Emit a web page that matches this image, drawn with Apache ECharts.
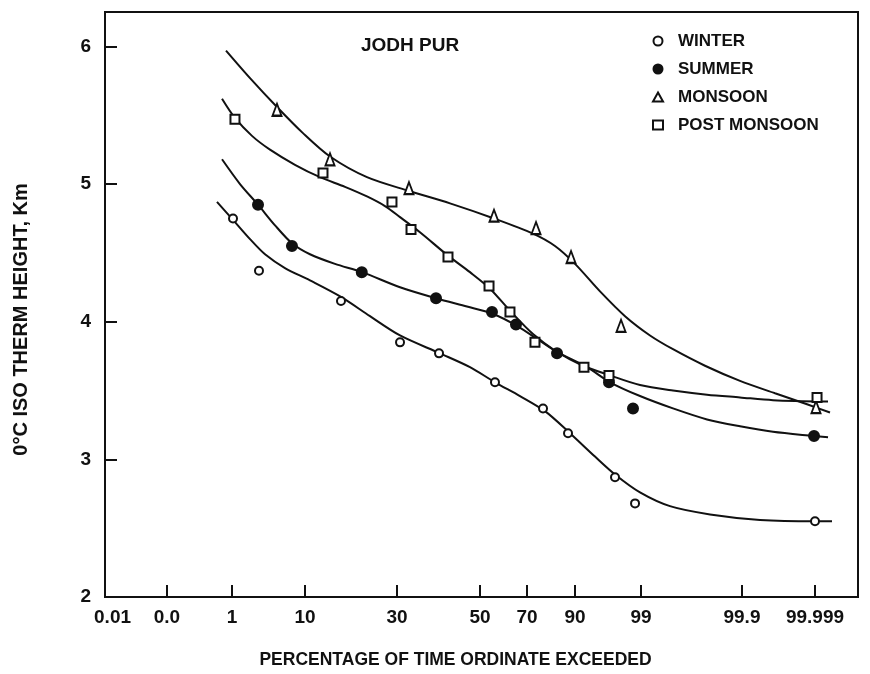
<!DOCTYPE html>
<html lang="en">
<head>
  <meta charset="UTF-8">
  <title>Jodhpur 0°C isotherm height</title>
  <style>
    html, body { margin: 0; padding: 0; background: #fff; }
    #main { width: 870px; height: 674px; }
  </style>
</head>
<body>
  <div id="main"></div>

  <script src="https://cdn.jsdelivr.net/npm/echarts@6/dist/echarts.min.js"></script>
  <script type="text/javascript">

    // x axis: position along the probability paper (0 = left edge, 100 = right edge)
    var tickPos    = [1.0, 8.23, 16.87, 26.56, 38.78, 49.80, 56.04, 62.42, 71.18, 84.59, 94.29];
    var tickLabels = ['0.01', '0.0', '1', '10', '30', '50', '70', '90', '99', '99.9', '99.999'];
    var yTicks = [2, 3, 4, 5, 6];

    // observed points [axis position, height km]
    var winterPts = [[17.00, 4.75], [20.45, 4.37], [31.34, 4.15], [39.18, 3.85], [44.36, 3.77],
      [51.79, 3.56], [58.17, 3.37], [61.49, 3.19], [67.73, 2.87], [70.39, 2.68], [94.29, 2.55]];
    var summerPts = [[20.32, 4.85], [24.83, 4.55], [34.10, 4.36], [43.96, 4.17], [51.39, 4.07],
      [54.58, 3.98], [60.03, 3.77], [66.93, 3.56], [70.12, 3.37], [94.16, 3.17]];
    var monsoonPts = [[22.84, 5.54], [29.88, 5.18], [40.37, 4.97], [51.66, 4.77], [57.24, 4.68],
      [61.89, 4.47], [68.53, 3.97], [94.42, 3.38]];
    var postPts = [[17.26, 5.47], [28.95, 5.08], [38.11, 4.87], [40.64, 4.67], [45.55, 4.47],
      [51.00, 4.26], [53.78, 4.07], [57.10, 3.85], [63.61, 3.67], [66.93, 3.61], [94.56, 3.45]];

    // fitted curves
    var winterCurve = [[14.87, 4.87], [17.00, 4.74], [19.26, 4.60], [21.25, 4.49], [23.90, 4.39],
      [27.22, 4.30], [31.34, 4.18], [35.19, 4.04], [39.18, 3.90], [44.49, 3.77], [48.47, 3.67],
      [51.79, 3.56], [55.11, 3.46], [58.43, 3.35], [61.75, 3.19], [65.07, 3.02], [67.73, 2.89],
      [71.05, 2.76], [75.03, 2.66], [80.35, 2.60], [86.99, 2.56], [94.29, 2.55], [96.55, 2.55]];
    var summerCurve = [[15.54, 5.18], [17.93, 5.00], [20.32, 4.85], [22.58, 4.70], [24.83, 4.57],
      [27.22, 4.49], [30.54, 4.42], [34.13, 4.36], [39.18, 4.25], [43.96, 4.17], [48.07, 4.11],
      [51.39, 4.06], [54.71, 3.97], [57.77, 3.86], [60.03, 3.78], [64.01, 3.67], [67.07, 3.56],
      [71.05, 3.46], [75.43, 3.37], [79.95, 3.29], [84.33, 3.24], [88.71, 3.20], [94.02, 3.17],
      [96.02, 3.16]];
    var monsoonCurve = [[16.07, 5.97], [19.26, 5.77], [22.84, 5.56], [26.29, 5.37], [29.88, 5.20],
      [34.79, 5.05], [40.37, 4.95], [45.82, 4.86], [51.66, 4.75], [56.84, 4.64], [59.76, 4.55],
      [62.42, 4.42], [65.74, 4.22], [69.06, 4.04], [72.38, 3.90], [75.43, 3.80], [79.68, 3.68],
      [84.33, 3.57], [88.98, 3.48], [93.23, 3.40], [96.28, 3.34]];
    var postCurve = [[15.54, 5.62], [17.26, 5.48], [19.52, 5.35], [21.91, 5.25], [25.23, 5.14],
      [28.55, 5.05], [31.87, 4.98], [34.79, 4.91], [37.18, 4.84], [39.18, 4.76], [41.83, 4.65],
      [45.55, 4.48], [48.47, 4.36], [51.13, 4.24], [53.78, 4.08], [56.84, 3.91], [60.03, 3.78],
      [63.48, 3.68], [67.07, 3.61], [71.05, 3.54], [75.43, 3.50], [79.95, 3.47], [84.33, 3.45],
      [88.71, 3.43], [96.02, 3.42]];

    var font = 'Liberation Sans';
    var ink = '#111';

    function curve(data) {
      return {
        type: 'line', data: data, smooth: 0.3, showSymbol: false, silent: true,
        lineStyle: { color: ink, width: 2 }, z: 2
      };
    }

    function dots(name, data, symbol, size, fill) {
      return {
        name: name, type: 'scatter', data: data, symbol: symbol, symbolSize: size, z: 3,
        itemStyle: { color: fill, borderColor: ink, borderWidth: 2, opacity: 1 }
      };
    }

    var myChart = echarts.init(document.getElementById('main'));

    var option = {
      backgroundColor: '#fff',
      animation: false,
      title: {
        text: 'JODH PUR', left: 356, top: 31,
        textStyle: { fontFamily: font, fontSize: 19, fontWeight: 'bold', color: ink }
      },
      legend: {
        orient: 'vertical', left: 647, top: 27,
        itemWidth: 10, itemHeight: 9, itemGap: 10,
        data: ['WINTER', 'SUMMER', 'MONSOON', 'POST MONSOON'],
        textStyle: { fontFamily: font, fontSize: 17, fontWeight: 'bold', color: ink,
          lineHeight: 18, padding: [0, 0, 0, 10] }
      },
      grid: {
        left: 105, right: 12, top: 12, bottom: 77,
        show: true, borderColor: ink, borderWidth: 2
      },
      xAxis: {
        type: 'value', min: 0, max: 100,
        name: 'PERCENTAGE OF TIME ORDINATE EXCEEDED',
        nameLocation: 'middle', nameGap: 54,
        nameTextStyle: { fontFamily: font, fontSize: 17.5, fontWeight: 'bold', color: ink,
          padding: [0, 52, 0, 0] },
        axisLine: { show: true, lineStyle: { color: ink, width: 2 } },
        axisTick: { show: true, inside: true, length: 12, customValues: tickPos.slice(1),
          lineStyle: { color: ink, width: 2 } },
        splitLine: { show: false },
        axisLabel: {
          customValues: tickPos, margin: 11,
          fontFamily: font, fontSize: 19, fontWeight: 'bold', color: ink,
          formatter: function (v) {
            var best = 0;
            for (var i = 1; i < tickPos.length; i++) {
              if (Math.abs(tickPos[i] - v) < Math.abs(tickPos[best] - v)) best = i;
            }
            return tickLabels[best];
          }
        }
      },
      yAxis: {
        type: 'value', min: 2, max: 6.25, interval: 1,
        name: '0°C ISO THERM HEIGHT, Km',
        nameLocation: 'middle', nameGap: 74, nameRotate: 90,
        nameTextStyle: { fontFamily: font, fontSize: 20, fontWeight: 'bold', color: ink,
          padding: [0, 30, 0, 0] },
        axisLine: { show: true, lineStyle: { color: ink, width: 2 } },
        axisTick: { show: true, inside: true, length: 12, customValues: yTicks,
          lineStyle: { color: ink, width: 2 } },
        splitLine: { show: false },
        axisLabel: { customValues: yTicks, margin: 14,
          fontFamily: font, fontSize: 19, fontWeight: 'bold', color: ink }
      },
      series: [
        curve(winterCurve),
        curve(summerCurve),
        curve(monsoonCurve),
        curve(postCurve),
        dots('WINTER', winterPts, 'circle', 8, '#fff'),
        dots('SUMMER', summerPts, 'circle', 10, ink),
        dots('MONSOON', monsoonPts, 'triangle', [9, 12], '#fff'),
        dots('POST MONSOON', postPts, 'rect', 9, '#fff')
      ]
    };

    myChart.setOption(option);
  </script>
</body>
</html>
